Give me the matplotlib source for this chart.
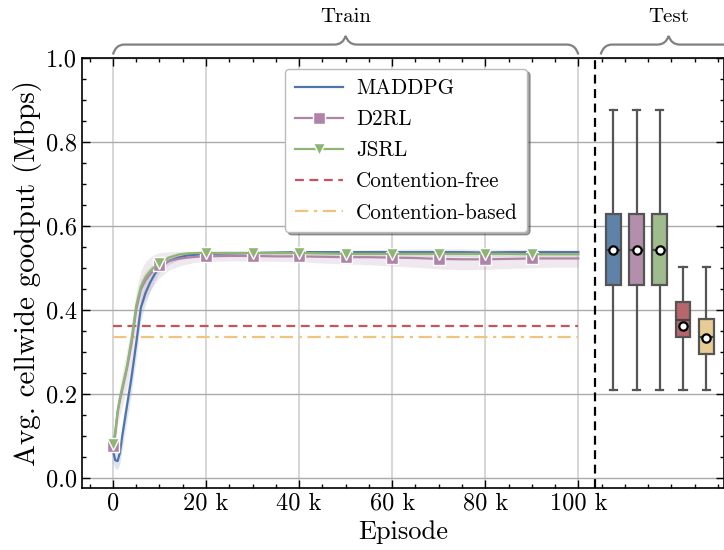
import matplotlib
matplotlib.use("Agg")
import matplotlib.pyplot as plt
import matplotlib.transforms as mtransforms
from matplotlib.path import Path
from matplotlib.patches import PathPatch
import numpy as np

# training curves, episodes in thousands
episodes = [0, 0.5, 1, 1.5, 2, 3, 4, 5, 6, 7, 8, 9, 10, 12, 14, 16, 18, 20,
            25, 30, 35, 40, 45, 50, 55, 60, 65, 70, 75, 80, 85, 90, 95, 100]

maddpg = [0.065, 0.042, 0.040, 0.060, 0.100, 0.170, 0.240, 0.320, 0.405, 0.440,
          0.465, 0.485, 0.500, 0.516, 0.524, 0.529, 0.531, 0.533,
          0.534, 0.535, 0.536, 0.537, 0.537, 0.537, 0.537, 0.537, 0.537, 0.537,
          0.537, 0.536, 0.537, 0.537, 0.537, 0.537]
maddpg_std = [0.030, 0.020, 0.020, 0.025, 0.030, 0.035, 0.035, 0.035, 0.030, 0.025,
              0.020, 0.016, 0.012, 0.008, 0.006, 0.005, 0.004, 0.003,
              0.003, 0.003, 0.003, 0.003, 0.003, 0.003, 0.003, 0.003, 0.003, 0.003,
              0.003, 0.003, 0.003, 0.003, 0.003, 0.003]

d2rl = [0.075, 0.105, 0.155, 0.185, 0.210, 0.260, 0.320, 0.400, 0.448, 0.470,
        0.485, 0.497, 0.506, 0.516, 0.521, 0.524, 0.526, 0.527,
        0.528, 0.528, 0.527, 0.527, 0.526, 0.525, 0.525, 0.524, 0.523, 0.521,
        0.520, 0.520, 0.521, 0.522, 0.522, 0.522]
d2rl_std = [0.020, 0.025, 0.030, 0.035, 0.040, 0.045, 0.045, 0.045, 0.045, 0.045,
            0.040, 0.035, 0.030, 0.022, 0.018, 0.015, 0.013, 0.012,
            0.012, 0.012, 0.012, 0.013, 0.015, 0.016, 0.018, 0.020, 0.022, 0.024,
            0.025, 0.024, 0.023, 0.022, 0.021, 0.021]

jsrl = [0.080, 0.110, 0.160, 0.190, 0.215, 0.265, 0.330, 0.410, 0.455, 0.478,
        0.492, 0.503, 0.512, 0.524, 0.531, 0.534, 0.535, 0.535,
        0.535, 0.535, 0.535, 0.535, 0.534, 0.533, 0.533, 0.533, 0.533, 0.533,
        0.533, 0.533, 0.533, 0.532, 0.532, 0.532]
jsrl_std = [0.015, 0.020, 0.020, 0.020, 0.020, 0.020, 0.020, 0.020, 0.018, 0.015,
            0.012, 0.010, 0.008, 0.006, 0.005, 0.004, 0.004, 0.004,
            0.004, 0.004, 0.004, 0.004, 0.005, 0.006, 0.006, 0.006, 0.006, 0.006,
            0.006, 0.006, 0.006, 0.006, 0.006, 0.006]

contention_free = 0.362
contention_based = 0.334

# test results (box statistics)
test_names = ["MADDPG", "D2RL", "JSRL", "Contention-free", "Contention-based"]
test_whislo = [0.209, 0.209, 0.209, 0.209, 0.209]
test_q1 = [0.459, 0.459, 0.459, 0.335, 0.294]
test_med = [0.543, 0.543, 0.543, 0.376, 0.336]
test_q3 = [0.628, 0.628, 0.628, 0.418, 0.377]
test_whishi = [0.876, 0.876, 0.876, 0.502, 0.502]
test_mean = [0.543, 0.543, 0.543, 0.362, 0.333]

xtick_vals = [0, 20, 40, 60, 80, 100]
xtick_labels = ["0", "20 k", "40 k", "60 k", "80 k", "100 k"]

c_blue = "#4f74ab"
c_purple = "#b083a8"
c_green = "#8fb574"
c_red = "#c9525c"
c_yellow = "#f0c47e"
box_colors = ["#5f82a8", "#b48fab", "#a0bb8d", "#b9656d", "#e8cc95"]

plt.rcParams["font.family"] = ["cmr10", "DejaVu Serif"]
plt.rcParams["mathtext.fontset"] = "cm"
plt.rcParams["axes.formatter.use_mathtext"] = True

fig = plt.figure(figsize=(7.24, 5.5), dpi=100)
ax = fig.add_axes([82 / 724, 62 / 550, 1 - 82 / 724, (488 - 57.5) / 550])

x = np.array(episodes)
series = [
    ("MADDPG", maddpg, maddpg_std, c_blue, None),
    ("D2RL", d2rl, d2rl_std, c_purple, "s"),
    ("JSRL", jsrl, jsrl_std, c_green, "v"),
]
mark_idx = [i for i, e in enumerate(episodes) if e % 10 == 0 and e < 100]
for name, m, s, c, mk in series:
    m = np.array(m)
    s = np.array(s)
    ax.fill_between(x, m - s, m + s, color=c, alpha=0.18, lw=0)
for name, m, s, c, mk in series:
    if mk is None:
        ax.plot(x, m, color=c, lw=1.6, label=name, zorder=3)
    else:
        ax.plot(x, m, color=c, lw=1.6, label=name, marker=mk, markersize=9,
                markeredgecolor="white", markeredgewidth=1.0,
                markevery=mark_idx, zorder=3)

ax.plot([0, 100], [contention_free] * 2, color=c_red, lw=1.6, ls=(0, (4, 2.5)),
        label="Contention-free")
ax.plot([0, 100], [contention_based] * 2, color=c_yellow, lw=1.6,
        ls=(0, (6, 2.5, 1.5, 2.5)), label="Contention-based")

ax.axvline(103.5, color="black", lw=1.6, ls=(0, (4, 2.5)), zorder=4)

# test boxes
stats = []
for i in range(len(test_names)):
    stats.append(dict(label=test_names[i], whislo=test_whislo[i], q1=test_q1[i],
                      med=test_med[i], q3=test_q3[i], whishi=test_whishi[i],
                      mean=test_mean[i], fliers=[]))
positions = [107.5 + 5 * i for i in range(len(test_names))]
bp = ax.bxp(stats, positions=positions, widths=3.2, patch_artist=True,
            showmeans=True, showfliers=False, manage_ticks=False,
            boxprops=dict(edgecolor="#555555", linewidth=1.6),
            whiskerprops=dict(color="#555555", linewidth=1.6),
            capprops=dict(color="#555555", linewidth=1.6),
            medianprops=dict(color="#444444", linewidth=1.6),
            meanprops=dict(marker="o", markerfacecolor="white",
                           markeredgecolor="black", markersize=6,
                           markeredgewidth=1.6))
for patch, col in zip(bp["boxes"], box_colors):
    patch.set_facecolor(col)

ax.set_xlim(-6.65, 131.3)
ax.set_ylim(-0.024, 1.0)
ax.set_xticks(xtick_vals)
ax.set_xticklabels(xtick_labels)
ax.set_xticks(np.arange(-5, 131, 5), minor=True)
ax.set_yticks(np.arange(0, 1.01, 0.2))
ax.set_yticks(np.arange(0, 1.01, 0.05), minor=True)
ax.yaxis.set_major_formatter(matplotlib.ticker.FormatStrFormatter("%.1f"))
ax.tick_params(which="both", direction="in", top=True, right=True,
               labelsize=17.5, width=1.0)
ax.tick_params(which="major", length=6)
ax.tick_params(which="minor", length=3)
ax.grid(axis="y", color="#aaaaaa", lw=1.0)
for xv in xtick_vals:
    ax.axvline(xv, color="#d0d0d0", lw=1.2, zorder=0)
for sp in ax.spines.values():
    sp.set_linewidth(1.2)

ax.set_xlabel("Episode", fontsize=19, labelpad=4)
ax.set_ylabel("Avg. cellwide goodput (Mbps)", fontsize=21, labelpad=3)

leg = ax.legend(loc="upper center", bbox_to_anchor=(0.505, 0.998), fontsize=15.2,
                frameon=True, fancybox=True, shadow=True, framealpha=1.0,
                edgecolor="#bbbbbb", handlelength=2.3, handletextpad=0.6,
                borderpad=0.45, labelspacing=0.55)

# braces above the axes
trans = mtransforms.blended_transform_factory(ax.transData, ax.transAxes)


def brace(x0, x1, r, label):
    yb, yf, yt = 1.007, 1.030, 1.050
    xc = 0.5 * (x0 + x1)
    verts = [(x0, yb), (x0 + 0.25 * r, yf), (x0 + r, yf),
             (xc - r, yf), (xc - 0.25 * r, yf), (xc, yt),
             (xc + 0.25 * r, yf), (xc + r, yf),
             (x1 - r, yf), (x1 - 0.25 * r, yf), (x1, yb)]
    codes = [Path.MOVETO, Path.CURVE3, Path.CURVE3,
             Path.LINETO, Path.CURVE3, Path.CURVE3,
             Path.CURVE3, Path.CURVE3,
             Path.LINETO, Path.CURVE3, Path.CURVE3]
    ax.add_patch(PathPatch(Path(verts, codes), transform=trans, fill=False,
                           edgecolor="#808080", lw=1.6, clip_on=False))
    ax.text(xc, 1.094, label, transform=trans, ha="center", va="center",
            fontsize=15)


brace(0, 100, 2.4, "Train")
brace(104.8, 134.0, 2.4, "Test")

fig.savefig("out.png", dpi=100)
